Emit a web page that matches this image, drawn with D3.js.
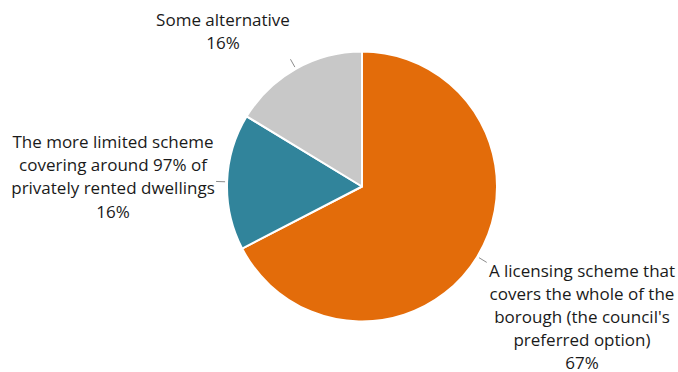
<!DOCTYPE html>
<html>
<head>
<meta charset="utf-8">
<script src="https://cdn.jsdelivr.net/npm/d3@7"></script>
<style>
  html, body { margin: 0; padding: 0; background: #fff; }
  svg { display: block; }
  text { font-family: "Open Sans", "DejaVu Sans", sans-serif; fill: #1a1a1a; }
</style>
</head>
<body>
<svg id="chart" width="678" height="372"></svg>
<script>
// Survey responses: preferred licensing option
const categories = [
  "A licensing scheme that covers the whole of the borough (the council's preferred option)",
  "The more limited scheme covering around 97% of privately rented dwellings",
  "Some alternative"
];
const labelLines = [
  ["A licensing scheme that", "covers the whole of the", "borough (the council's", "preferred option)"],
  ["The more limited scheme", "covering around 97% of", "privately rented dwellings"],
  ["Some alternative"]
];
const values = [67.4, 16.3, 16.3];
const percentLabels = ["67%", "16%", "16%"];
const colors = ["#E36C0A", "#31849B", "#C8C8C8"];

const width = 678, height = 372;
const cx = 362, cy = 186.5, radius = 135;

const svg = d3.select("#chart");
const g = svg.append("g").attr("transform", `translate(${cx},${cy})`);

const pie = d3.pie().sort(null).value(d => d.value);
const arcs = pie(values.map((v, i) => ({ value: v, i })));

const arc = d3.arc().innerRadius(0).outerRadius(radius);

g.selectAll("path.slice")
  .data(arcs)
  .join("path")
  .attr("class", "slice")
  .attr("d", arc)
  .attr("fill", d => colors[d.data.i])
  .attr("stroke", "#fff")
  .attr("stroke-width", 2)
  .attr("stroke-linejoin", "round");

// Leader lines: short radial ticks just outside each slice
const mid = d => (d.startAngle + d.endAngle) / 2;
const polar = (a, r) => [Math.sin(a) * r, -Math.cos(a) * r];
g.selectAll("line.leader")
  .data(arcs)
  .join("line")
  .attr("class", "leader")
  .attr("x1", d => polar(mid(d), radius + 2)[0])
  .attr("y1", d => polar(mid(d), radius + 2)[1])
  .attr("x2", d => polar(mid(d), radius + 11)[0])
  .attr("y2", d => polar(mid(d), radius + 11)[1])
  .attr("stroke", "#8c8c8c")
  .attr("stroke-width", 1);

// Label blocks, centred beside the leader ends
const lineH = 23.2;
const labelPos = [
  { x: 582, y: 276.5 },
  { x: 113, y: 148 },
  { x: 223, y: 26 }
];

arcs.forEach(d => {
  const i = d.data.i;
  const lines = labelLines[i].concat([percentLabels[i]]);
  const t = svg.append("text")
    .attr("text-anchor", "middle")
    .attr("font-size", 17);
  lines.forEach((ln, j) => {
    t.append("tspan")
      .attr("x", labelPos[i].x)
      .attr("y", labelPos[i].y + j * lineH)
      .text(ln);
  });
});
</script>
</body>
</html>
